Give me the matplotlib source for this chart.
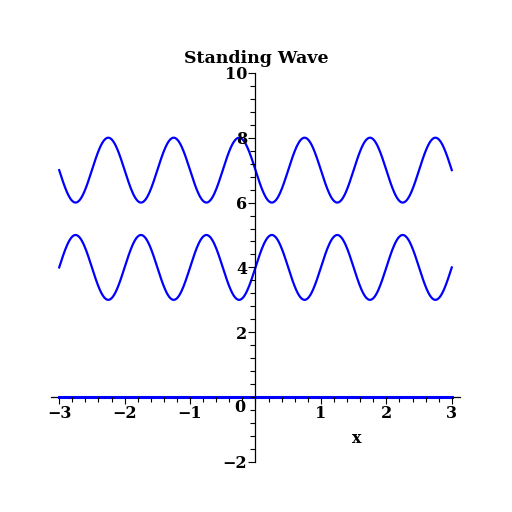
import numpy as np
import matplotlib
matplotlib.use("Agg")
import matplotlib.pyplot as plt
from matplotlib.ticker import MultipleLocator

# Chart data: three curves of a standing wave demo
title = "Standing Wave"
x_range = (-3, 3)
offsets = [4, 7, 0]          # vertical shift of each curve
amplitudes = [1, -1, 0]      # amplitude of each curve (sum curve is flat)
wavelength = 1.0
x_ticks = [-3, -2, -1, 1, 2, 3]
y_ticks = [-2, 2, 4, 6, 8, 10]

x = np.linspace(x_range[0], x_range[1], 600)

fig = plt.figure(figsize=(5.12, 5.12), dpi=100)
ax = fig.add_axes([0.099, 0.0977, 0.8, 0.76])

font = {"family": "DejaVu Serif", "weight": "bold"}
fs = 11.5
blue = (0, 0, 1)
for off, amp in zip(offsets, amplitudes):
    y = off + amp * np.sin(2 * np.pi * x / wavelength)
    lw = 2.2 if amp == 0 else 1.6
    ax.plot(x, y, color=blue, lw=lw, zorder=1, clip_on=False)

ax.set_xlim(-3.13, 3.13)
ax.set_ylim(-2, 10)
for s in ["top", "right"]:
    ax.spines[s].set_visible(False)
ax.spines["left"].set_position(("data", 0))
ax.spines["bottom"].set_position(("data", 0))
ax.spines["left"].set_linewidth(0.9)
ax.spines["bottom"].set_linewidth(0.9)
ax.spines["bottom"].set_zorder(0.5)

ax.set_xticks(x_ticks)
ax.set_xticklabels([("\u2212%d" % -v) if v < 0 else str(v) for v in x_ticks], **font)
ax.set_yticks(y_ticks)
ax.set_yticklabels([("\u2212%d" % -v) if v < 0 else str(v) for v in y_ticks], **font)
ax.xaxis.set_minor_locator(MultipleLocator(0.2))
ax.yaxis.set_minor_locator(MultipleLocator(0.4))
ax.tick_params(which="major", direction="out", length=5, width=0.8, pad=1)
ax.tick_params(which="minor", direction="out", length=3.5, width=0.8)
for lab in ax.get_xticklabels() + ax.get_yticklabels():
    lab.set_fontsize(fs)

ax.text(-0.15, -0.05, "0", ha="right", va="top", fontsize=fs, **font)
ax.text(1.55, -1.0, "x", ha="center", va="top", fontsize=fs, **font)
fig.text(0.5, 0.876, title, ha="center", va="baseline", fontsize=12.5, **font)

fig.savefig("out.png", dpi=100)
